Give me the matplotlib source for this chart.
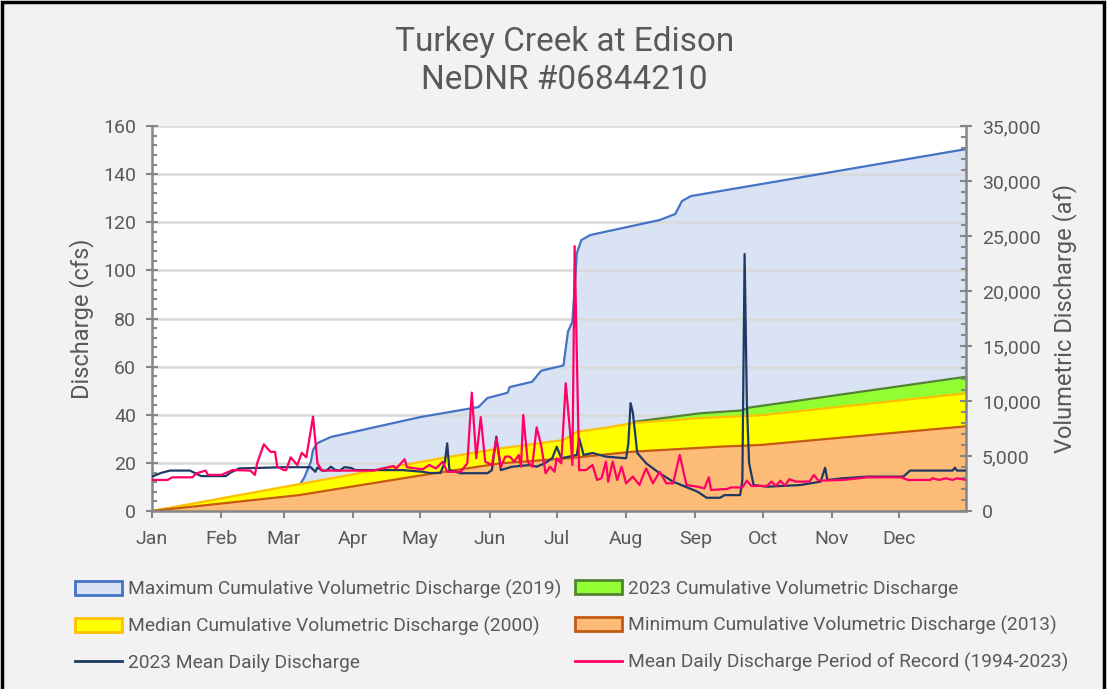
import matplotlib
matplotlib.use("Agg")
import matplotlib.pyplot as plt
from matplotlib.patches import Patch, Rectangle
from matplotlib.lines import Line2D
from matplotlib.ticker import MultipleLocator, FuncFormatter

plt.rcParams['font.family'] = ['Roboto', 'DejaVu Sans']

# month ticks (day of year, 0 = Jan 1)
month_days = [0, 31, 59, 90, 120, 151, 181, 212, 243, 273, 304, 334]
month_labels = ['Jan', 'Feb', 'Mar', 'Apr', 'May', 'Jun', 'Jul', 'Aug', 'Sep', 'Oct', 'Nov', 'Dec']

# cumulative volumetric discharge (af)
max2019_day = [0, 30, 55, 62, 66, 68, 71, 72, 74, 80, 120, 146, 150, 159, 160, 170, 174, 184, 186, 188, 190, 192, 196, 227, 234, 237, 241, 364]
max2019_af = [0, 600, 1300, 1800, 2360, 3000, 4450, 5550, 6180, 6730, 8540, 9450, 10270, 10750, 11270, 11750, 12750, 13230, 16300, 17210, 23450, 24630, 25090, 26450, 27000, 28180, 28630, 32900]

cum2023_day = [0, 60, 120, 180, 212, 216, 245, 264, 267, 364]
cum2023_af = [0, 2000, 4000, 6000, 7600, 8120, 8880, 9150, 9400, 12200]

median2000_day = [0, 66, 129, 156, 184, 190, 202, 215, 245, 272, 364]
median2000_af = [0, 2450, 4790, 5700, 6450, 7210, 7540, 8000, 8450, 8700, 10700]

min2013_day = [0, 66, 124, 156, 186, 215, 254, 272, 364]
min2013_af = [0, 1450, 3360, 4340, 4790, 5390, 5850, 6000, 7700]

# mean daily discharge (cfs)
q2023_day = [0, 4, 8, 17, 20, 22, 33, 35, 39, 59, 71, 73, 74, 76, 78, 80, 82, 84, 86, 89, 91, 112, 121, 124, 129, 131, 132, 133, 138, 150, 152, 154, 156, 161, 169, 172, 176, 179, 181, 183, 190, 191, 193, 197, 203, 212, 213, 214, 215, 217, 221, 227, 233, 244, 248, 254, 256, 263, 264, 265, 266, 267, 269, 275, 290, 299, 301, 302, 309, 320, 336, 339, 358, 359, 360, 364]
q2023_cfs = [14.3, 15.8, 16.8, 16.8, 15.4, 14.5, 14.5, 15.9, 17.7, 18.2, 18.2, 16.3, 18.1, 16.8, 16.8, 18.4, 17.0, 16.8, 18.2, 17.9, 17.0, 17.0, 16.3, 15.8, 15.8, 20.4, 28.1, 17.0, 15.7, 15.7, 17.0, 30.9, 17.0, 18.4, 19.1, 18.4, 20.0, 22.0, 26.7, 21.9, 23.3, 30.3, 23.3, 24.1, 22.6, 21.9, 28.0, 44.8, 41.0, 24.1, 19.8, 15.7, 12.2, 8.0, 5.5, 5.5, 6.6, 6.6, 12.9, 106.8, 45.0, 20.0, 10.8, 10.1, 10.8, 12.2, 18.0, 12.9, 13.6, 14.3, 14.3, 16.8, 16.8, 18.0, 16.8, 16.8]

qpor_day = [0, 7, 9, 18, 20, 24, 25, 31, 36, 44, 46, 47, 50, 53, 55, 56, 59, 60, 62, 65, 67, 69, 72, 74, 76, 99, 103, 108, 109, 113, 114, 121, 124, 127, 130, 132, 138, 141, 143, 145, 147, 149, 152, 154, 156, 158, 160, 162, 164, 165, 166, 168, 170, 172, 174, 176, 178, 180, 181, 183, 185, 187, 188, 189, 191, 194, 197, 199, 201, 203, 204, 206, 208, 210, 212, 215, 218, 220, 221, 224, 227, 230, 233, 236, 239, 244, 247, 249, 250, 254, 257, 259, 264, 266, 268, 275, 277, 279, 281, 283, 285, 288, 294, 296, 298, 309, 320, 335, 338, 348, 349, 352, 355, 358, 360, 364]
qpor_cfs = [12.9, 12.9, 14.0, 14.0, 15.7, 16.8, 15.0, 15.0, 17.0, 16.8, 15.0, 19.8, 27.7, 24.6, 24.6, 18.4, 17.0, 17.0, 22.3, 19.1, 24.2, 22.3, 39.2, 19.8, 16.8, 16.8, 17.7, 18.7, 17.5, 21.5, 18.2, 17.3, 19.1, 17.7, 20.5, 16.3, 16.3, 19.8, 49.2, 21.9, 39.0, 20.5, 19.1, 30.2, 18.4, 22.6, 22.6, 20.5, 23.3, 18.4, 39.9, 20.5, 18.4, 34.8, 27.4, 15.7, 18.4, 16.3, 21.9, 19.8, 53.1, 32.3, 19.1, 110.1, 17.0, 17.0, 19.1, 12.9, 13.6, 20.5, 12.2, 20.5, 12.9, 18.4, 11.5, 14.3, 10.8, 15.7, 17.7, 11.5, 16.3, 11.5, 11.5, 23.3, 10.8, 10.1, 9.4, 14.0, 8.7, 9.0, 9.1, 9.8, 9.8, 12.6, 10.4, 10.4, 12.2, 10.4, 12.6, 10.6, 13.2, 12.2, 12.2, 15.0, 12.6, 12.9, 14.0, 14.0, 12.9, 12.9, 13.6, 12.9, 13.6, 12.9, 13.6, 12.9]

txt = '#595959'
axc = '#868686'

fig = plt.figure(figsize=(11.15, 6.89), dpi=100, facecolor='white')
fig.patches.append(Rectangle((2 / 1115, -0.02), 1102 / 1115, 1.02 - 2 / 689,
                             transform=fig.transFigure, facecolor='#f2f2f2',
                             edgecolor='black', linewidth=2.5, zorder=-1))

ax = fig.add_axes([152 / 1115, 1 - 511 / 689, 814 / 1115, 385 / 689])
ax.set_facecolor('white')
ax2 = ax.twinx()

# volumetric axis on the right (fills), discharge axis on the left (lines)
ax.yaxis.tick_right()
ax.yaxis.set_label_position('right')
ax2.yaxis.tick_left()
ax2.yaxis.set_label_position('left')

ax.fill_between(max2019_day, 0, max2019_af, color='#dae3f3', lw=0, zorder=1.0)

# horizontal grid at the discharge ticks, under the opaque areas
for v in range(20, 161, 20):
    ax.add_line(Line2D([0, 1], [v, v], transform=ax2.get_yaxis_transform(),
                       color='#d9d9d9', lw=1.8, zorder=1.02))
ax.plot(max2019_day, max2019_af, color='#4472c4', lw=1.6, zorder=1.05)

ax.fill_between(cum2023_day, 0, cum2023_af, color='#92ff33', lw=0, zorder=1.2)
ax.plot(cum2023_day, cum2023_af, color='#548235', lw=1.6, zorder=1.25)
ax.fill_between(median2000_day, 0, median2000_af, color='#ffff00', lw=0, zorder=1.3)
ax.plot(median2000_day, median2000_af, color='#ffc000', lw=1.6, zorder=1.35)
ax.fill_between(min2013_day, 0, min2013_af, color='#fdbb78', lw=0, zorder=1.4)
ax.plot(min2013_day, min2013_af, color='#c55a11', lw=1.6, zorder=1.45)

ax2.plot(q2023_day, q2023_cfs, color='#1f3864', lw=1.6, zorder=3)
ax2.plot(qpor_day, qpor_cfs, color='#ff0066', lw=1.6, zorder=3.1)

ax.set_xlim(0, 364)
ax.set_ylim(0, 35000)
ax2.set_ylim(0, 160)

ax.set_xticks(month_days)
ax.set_xticklabels(month_labels)
ax.tick_params(axis='x', direction='out', length=5, width=1.5, color=axc,
               labelsize=14, labelcolor=txt, pad=9)

ax.yaxis.set_major_locator(MultipleLocator(5000))
ax.yaxis.set_minor_locator(MultipleLocator(1000))
ax.yaxis.set_major_formatter(FuncFormatter(lambda v, p: f'{v:,.0f}'))
ax.tick_params(axis='y', which='major', direction='inout', length=9, width=1.5,
               color=axc, labelsize=14, labelcolor=txt, pad=7)
ax.tick_params(axis='y', which='minor', direction='in', length=3.5, width=1.5, color=axc)

ax2.yaxis.set_major_locator(MultipleLocator(20))
ax2.yaxis.set_minor_locator(MultipleLocator(4))
ax2.tick_params(axis='y', which='major', direction='inout', length=9, width=1.5,
                color=axc, labelsize=14, labelcolor=txt, pad=7)
ax2.tick_params(axis='y', which='minor', direction='in', length=3.5, width=1.5, color=axc)

for s in ['top', 'left']:
    ax.spines[s].set_visible(False)
for s in ['right', 'bottom']:
    ax.spines[s].set_color(axc)
    ax.spines[s].set_linewidth(1.8)
for s in ['top', 'right', 'bottom']:
    ax2.spines[s].set_visible(False)
ax2.spines['left'].set_color(axc)
ax2.spines['left'].set_linewidth(1.8)

ax2.set_ylabel('Discharge (cfs)', fontsize=17, color=txt)
ax2.yaxis.set_label_coords((94 - 152) / 814, 0.5)
ax.set_ylabel('Volumetric Discharge (af)', fontsize=17, color=txt)
ax.yaxis.set_label_coords((1052 - 152) / 814, 0.5)

fig.text(0.506, 1 - 42 / 689, 'Turkey Creek at Edison', ha='center', va='center',
         fontsize=24, color=txt)
fig.text(0.506, 1 - 80 / 689, 'NeDNR #06844210', ha='center', va='center',
         fontsize=24, color=txt)

h_max = Patch(facecolor='#dae3f3', edgecolor='#4472c4', linewidth=2)
h_23 = Patch(facecolor='#92ff33', edgecolor='#548235', linewidth=2)
h_med = Patch(facecolor='#ffff00', edgecolor='#ffc000', linewidth=2)
h_min = Patch(facecolor='#fdbb78', edgecolor='#c55a11', linewidth=2)
h_q23 = Line2D([], [], color='#1f3864', lw=2)
h_por = Line2D([], [], color='#ff0066', lw=2)

leg_kw = dict(loc='upper left', frameon=False, fontsize=13.8, handlelength=2.45,
              handleheight=0.73, handletextpad=0.3, labelspacing=0.92,
              borderpad=0, borderaxespad=0, labelcolor=txt)
fig.legend([h_max, h_med, h_q23],
           ['Maximum Cumulative Volumetric Discharge (2019)',
            'Median Cumulative Volumetric Discharge (2000)',
            '2023 Mean Daily Discharge'],
           bbox_to_anchor=(75 / 1115, 1 - 580 / 689), **leg_kw)
fig.legend([h_23, h_min, h_por],
           ['2023 Cumulative Volumetric Discharge',
            'Minimum Cumulative Volumetric Discharge (2013)',
            'Mean Daily Discharge Period of Record (1994-2023)'],
           bbox_to_anchor=(575 / 1115, 1 - 580 / 689), **leg_kw)

fig.savefig('out.png', dpi=100, facecolor=fig.get_facecolor())
